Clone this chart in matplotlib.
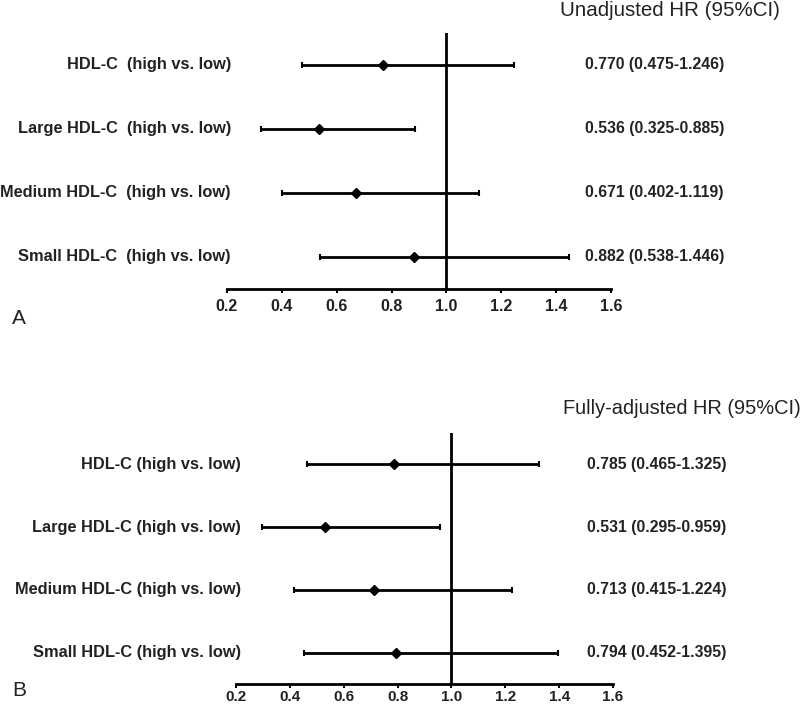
import matplotlib.pyplot as plt
from matplotlib.transforms import blended_transform_factory

plt.rcParams['font.family'] = ['Liberation Sans', 'DejaVu Sans']

# Panel A - unadjusted
labels_a = ['HDL-C  (high vs. low)', 'Large HDL-C  (high vs. low)',
            'Medium HDL-C  (high vs. low)', 'Small HDL-C  (high vs. low)']
hr_a = [0.770, 0.536, 0.671, 0.882]
lo_a = [0.475, 0.325, 0.402, 0.538]
hi_a = [1.246, 0.885, 1.119, 1.446]

# Panel B - fully adjusted
labels_b = ['HDL-C (high vs. low)', 'Large HDL-C (high vs. low)',
            'Medium HDL-C (high vs. low)', 'Small HDL-C (high vs. low)']
hr_b = [0.785, 0.531, 0.713, 0.794]
lo_b = [0.465, 0.295, 0.415, 0.452]
hi_b = [1.325, 0.959, 1.224, 1.395]

xticks = [0.2, 0.4, 0.6, 0.8, 1.0, 1.2, 1.4, 1.6]

W, H = 800, 704
fig = plt.figure(figsize=(W / 100, H / 100), dpi=100)


def panel(left, right, top, bottom, labels, hr, lo, hi, title, title_x, title_y,
          title_size, lab_x, txt_x, letter, letter_y, pad, tick_size):
    ax = fig.add_axes([left / W, 1 - bottom / H, (right - left) / W, (bottom - top) / H])
    rows = list(range(1, len(hr) + 1))
    err = [[h - l for h, l in zip(hr, lo)], [u - h for h, u in zip(hr, hi)]]
    ax.errorbar(hr, rows, xerr=err, fmt='D', color='black', ms=5,
                elinewidth=2, capsize=2, capthick=1.5, zorder=3)
    ax.axvline(1.0, color='black', lw=2)
    ax.set_xlim(0.2, 1.6)
    ax.set_ylim(len(hr) + 0.5, 0.5)
    for s in ['top', 'right', 'left']:
        ax.spines[s].set_visible(False)
    ax.spines['bottom'].set_linewidth(2)
    ax.set_yticks([])
    ax.set_xticks(xticks)
    ax.set_xticklabels(['%.1f' % t for t in xticks], fontsize=tick_size,
                       fontweight='bold', color='#222222')
    ax.tick_params(axis='x', length=3, width=1.5, pad=pad)
    tr = blended_transform_factory(fig.transFigure, ax.transData)
    for r, lab, h, l, u in zip(rows, labels, hr, lo, hi):
        ax.text(lab_x / W, r, lab, transform=tr, ha='right', va='center',
                fontsize=11.8, fontweight='bold', color='#222222', clip_on=False)
        ax.text(txt_x / W, r, '%.3f (%.3f-%.3f)' % (h, l, u), transform=tr,
                ha='left', va='center', fontsize=11.3, fontweight='bold',
                color='#222222', clip_on=False)
    fig.text(title_x / W, 1 - title_y / H, title, ha='left', va='center',
             fontsize=title_size, color='#222222')
    fig.text(12 / W, 1 - letter_y / H, letter, ha='left', va='center',
             fontsize=15, color='#222222')
    return ax


panel(227, 611, 33, 289, labels_a, hr_a, lo_a, hi_a, 'Unadjusted HR (95%CI)',
      560, 10, 14.8, 231, 585, 'A', 319, 4, 11.5)
panel(236, 613, 433, 684, labels_b, hr_b, lo_b, hi_b, 'Fully-adjusted HR (95%CI)',
      563, 409, 14.4, 241, 587, 'B', 690, 1.5, 11)

plt.savefig('out.png', dpi=100)
